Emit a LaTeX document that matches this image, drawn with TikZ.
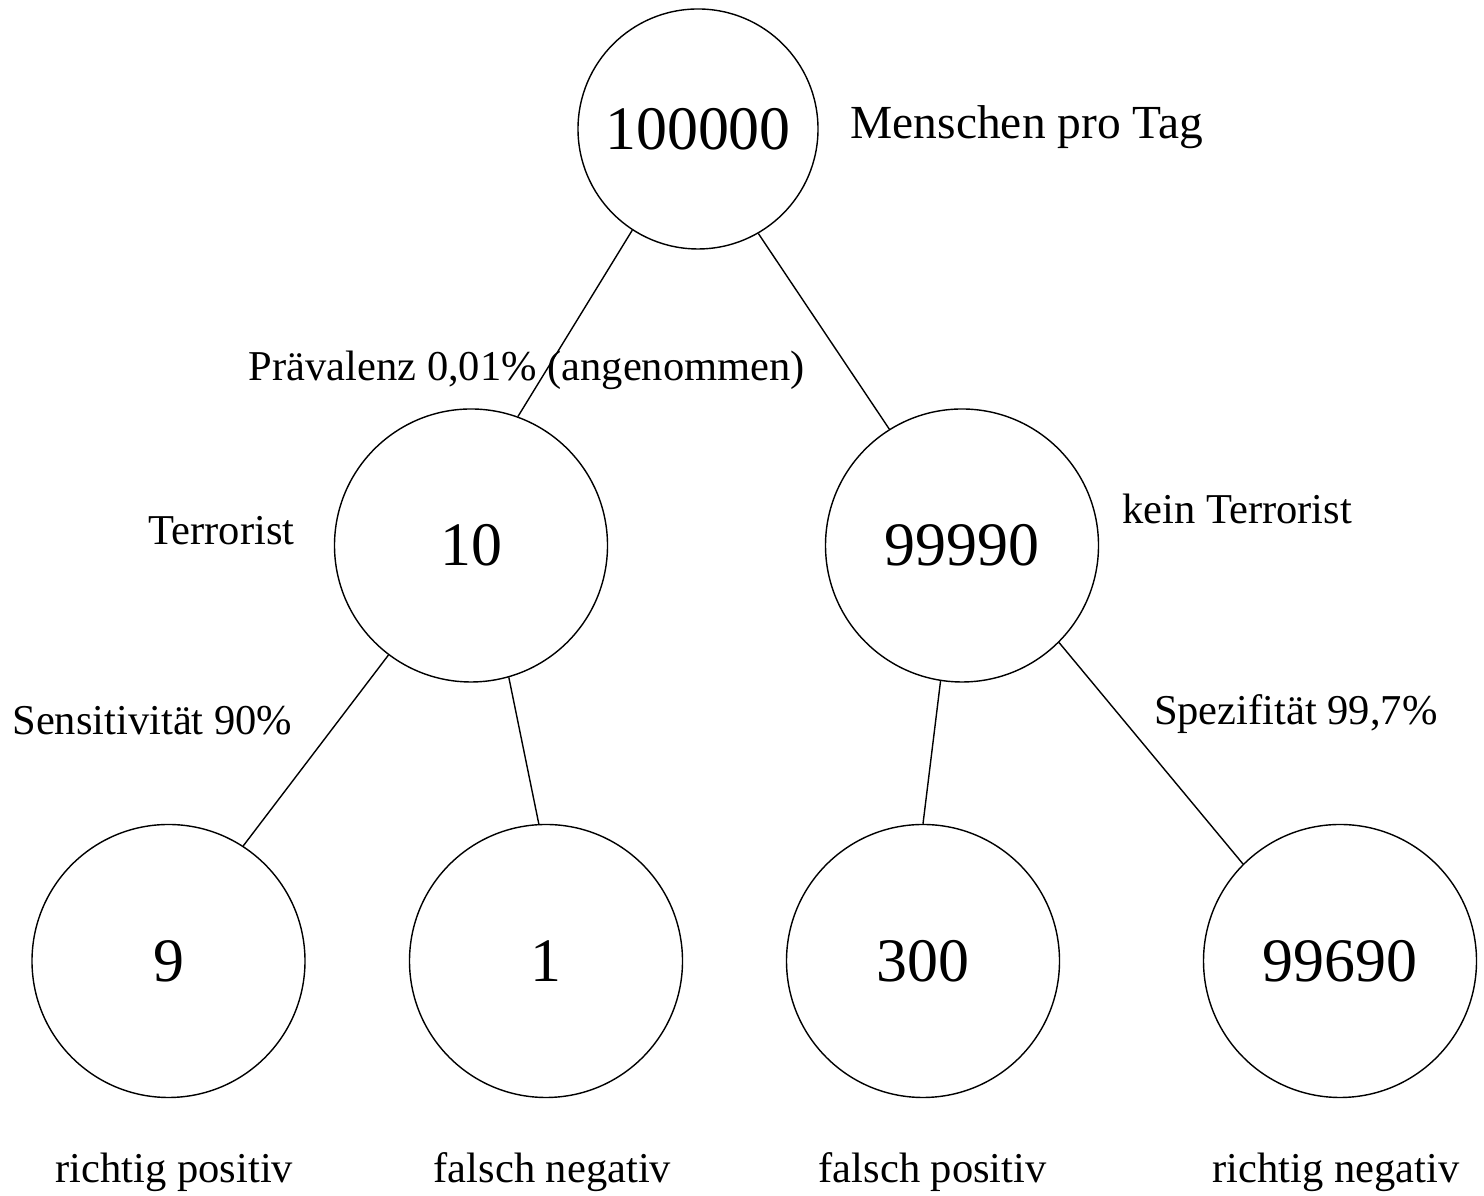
\documentclass[tikz,border=0pt]{standalone}
\usepackage{fontspec}
\setmainfont{Liberation Serif}
\tikzset{knoten/.style={circle, draw=black, minimum size=2.73cm, inner sep=0pt, font=\fontsize{17.6}{20}\selectfont},
%labels sit on their baseline, left aligned
beschriftung/.style={anchor=base west, inner sep=0pt, font=\fontsize{12.1}{14}\selectfont}}

\begin{document}
\begin{tikzpicture}

\useasboundingbox (0,0) rectangle (14.84,11.96);

\coordinate (0) at (6.98,10.67);

\coordinate (1) at (4.71,6.505);
\coordinate (2) at (9.62,6.505);

\coordinate (3) at (1.685,2.35);
\coordinate (4) at (5.46,2.35);
\coordinate (5) at (9.23,2.35);
\coordinate (6) at (13.40,2.35);

\node[knoten, minimum size=2.4cm] (k0) at (0) {100000};

\foreach \i/\n in {1/10,2/99990,3/9,4/1,5/300,6/99690}
    \node[knoten] (k\i) at (\i) {\n};

\draw (k0.237) -- (k1.70);
\draw (k0.300) -- (k2.122);
\draw (k1.233) -- (k3.57);
\draw (k1.286) -- (k4.93);
\draw (k2.261) -- (k5.90);
\draw (k2.315) -- (k6.135);

\node[beschriftung, font=\fontsize{13.5}{16}\selectfont] (t0) at (8.50,10.575) {Menschen pro Tag};
\node[beschriftung] (t1) at (2.48,8.15) {Prävalenz 0,01\% (angenommen)};
\node[beschriftung] (t2) at (1.48,6.51) {Terrorist};
\node[beschriftung] (t3) at (11.217,6.727) {kein Terrorist};
\node[beschriftung] (t4) at (0.117,4.61) {Sensitivität 90\%};
\node[beschriftung] (t5) at (11.533,4.71) {Spezifität 99,7\%};

\node[beschriftung] (t6) at (0.55,0.13) {richtig positiv};
\node[beschriftung] (t7) at (4.33,0.13) {falsch negativ};
\node[beschriftung] (t8) at (8.18,0.13) {falsch positiv};
\node[beschriftung] (t9) at (12.12,0.13) {richtig negativ};

\end{tikzpicture}
\end{document}
